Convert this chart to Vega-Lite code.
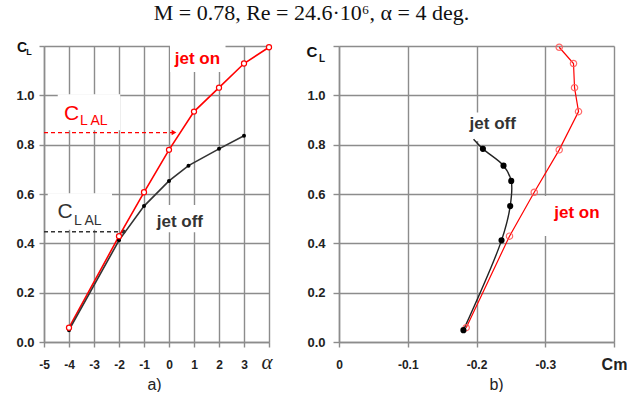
{
  "$schema": "https://vega.github.io/schema/vega-lite/v6.json",
  "autosize": {"type": "pad"},
  "padding": {"left": 15, "top": 2, "right": 0, "bottom": 0},
  "background": "white",
  "title": {"text": "M = 0.78, Re = 24.6·10⁶, α = 4 deg.", "font": "Liberation Serif", "fontSize": 22, "fontWeight": "normal", "color": "#111", "anchor": "middle", "baseline": "alphabetic", "offset": -2, "dx": -10},
  "config": {
    "view": {"stroke": null},
    "axis": {"grid": true, "gridColor": "#8c8c8c", "gridWidth": 1.4, "domainColor": "#8c8c8c", "domainWidth": 1.5, "tickColor": "#8c8c8c", "tickWidth": 1.4, "labelFont": "Liberation Sans", "labelFontWeight": "bold", "labelColor": "#222", "labelFlush": false, "labelOverlap": false, "labelBound": false}
  },
  "datasets": {
    "leftCurves": [
      {"alpha": -4, "CL": 0.058, "series": "jet on"},
      {"alpha": -2, "CL": 0.429, "series": "jet on"},
      {"alpha": -1, "CL": 0.607, "series": "jet on"},
      {"alpha": 0, "CL": 0.779, "series": "jet on"},
      {"alpha": 1, "CL": 0.934, "series": "jet on"},
      {"alpha": 2, "CL": 1.031, "series": "jet on"},
      {"alpha": 3, "CL": 1.129, "series": "jet on"},
      {"alpha": 4, "CL": 1.195, "series": "jet on"},
      {"alpha": -4, "CL": 0.048, "series": "jet off"},
      {"alpha": -2, "CL": 0.412, "series": "jet off"},
      {"alpha": -1, "CL": 0.551, "series": "jet off"},
      {"alpha": 0, "CL": 0.653, "series": "jet off"},
      {"alpha": 0.78, "CL": 0.715, "series": "jet off"},
      {"alpha": 2, "CL": 0.783, "series": "jet off"},
      {"alpha": 3, "CL": 0.836, "series": "jet off"}
    ],
    "rightCurves": [
      {"Cm": -0.185, "CL": 0.058, "series": "jet on", "marker": true},
      {"Cm": -0.248, "CL": 0.429, "series": "jet on", "marker": true},
      {"Cm": -0.284, "CL": 0.607, "series": "jet on", "marker": true},
      {"Cm": -0.3203, "CL": 0.779, "series": "jet on", "marker": true},
      {"Cm": -0.3484, "CL": 0.934, "series": "jet on", "marker": true},
      {"Cm": -0.3426, "CL": 1.031, "series": "jet on", "marker": true},
      {"Cm": -0.3411, "CL": 1.129, "series": "jet on", "marker": true},
      {"Cm": -0.3203, "CL": 1.195, "series": "jet on", "marker": true},
      {"Cm": -0.181, "CL": 0.048, "series": "jet off", "marker": true},
      {"Cm": -0.2364, "CL": 0.412, "series": "jet off", "marker": true},
      {"Cm": -0.249, "CL": 0.551, "series": "jet off", "marker": true},
      {"Cm": -0.2505, "CL": 0.653, "series": "jet off", "marker": true},
      {"Cm": -0.2393, "CL": 0.715, "series": "jet off", "marker": true},
      {"Cm": -0.2093, "CL": 0.783, "series": "jet off", "marker": true},
      {"Cm": -0.1957, "CL": 0.822, "series": "jet off", "marker": false}
    ],
    "leftBoxes": [
      {"a1": 0.04, "a2": 2.26, "c1": 1.095, "c2": 1.206},
      {"a1": -4.45, "a2": -1.95, "c1": 0.858, "c2": 1.004},
      {"a1": -4.85, "a2": -2.28, "c1": 0.455, "c2": 0.603},
      {"a1": -0.6, "a2": 1.6, "c1": 0.445, "c2": 0.555}
    ],
    "leftLeaders": [
      {"a1": -5, "a2": 0.2, "CL": 0.849, "series": "jet on"},
      {"a1": -5, "a2": -1.82, "CL": 0.447, "series": "jet off"}
    ],
    "leftLabels": [
      {"alpha": 1.136, "CL": 1.127, "label": "jet on", "series": "jet on"},
      {"alpha": 0.436, "CL": 0.465, "label": "jet off", "series": "jet off"}
    ],
    "leftBigC": [
      {"alpha": -4.2, "CL": 0.9, "label": "C", "series": "jet on"},
      {"alpha": -4.46, "CL": 0.501, "label": "C", "series": "jet off"}
    ],
    "leftSub": [
      {"alpha": -3.56, "CL": 0.88, "label": "L AL", "series": "jet on"},
      {"alpha": -3.8, "CL": 0.474, "label": "L AL", "series": "jet off"}
    ],
    "rightBoxes": [
      {"c1": -0.182, "c2": -0.268, "l1": 0.815, "l2": 0.93},
      {"c1": -0.298, "c2": -0.39, "l1": 0.43, "l2": 0.592}
    ],
    "rightLabels": [
      {"Cm": -0.2236, "CL": 0.862, "label": "jet off", "series": "jet off"},
      {"Cm": -0.346, "CL": 0.501, "label": "jet on", "series": "jet on"}
    ]
  },
  "hconcat": [
    {
      "width": 225,
      "height": 296,
      "layer": [
        {
          "data": {"name": "leftBoxes"},
          "mark": {"type": "rect", "fill": "white", "stroke": null},
          "encoding": {
            "x": {"field": "a1", "type": "quantitative", "scale": {"domain": [-5, 4], "nice": false, "zero": false},
              "axis": {"values": [-5, -4, -3, -2, -1, 0, 1, 2, 3, 4], "tickCount": 20, "labelOverlap": false, "labelFlush": false, "labelSeparation": 0, "tickSize": 5, "labelFontSize": 12,
                "labelBaseline": "middle", "labelPadding": 17,
                "labelExpr": "datum.value > 3.5 ? '' : (datum.value < 0 ? '-' + format(-datum.value, 'd') : format(datum.value, 'd'))",
                "title": "a)", "titleFont": "Liberation Sans", "titleFontSize": 16, "titleFontWeight": "normal", "titleColor": "#222", "titleBaseline": "alphabetic", "titleY": 47, "titleX": 110, "titleAlign": "center"}},
            "x2": {"field": "a2"},
            "y": {"field": "c1", "type": "quantitative", "scale": {"domain": [0, 1.2], "nice": false},
              "axis": {"values": [0, 0.2, 0.4, 0.6, 0.8, 1.0, 1.2], "tickCount": 20, "labelOverlap": false, "tickSize": 5, "labelPadding": 5, "labelFontSize": 13,
                "labelExpr": "datum.value > 1.1 ? '' : format(datum.value, '.1f')", "title": null}},
            "y2": {"field": "c2"}
          }
        },
        {
          "data": {"name": "leftLeaders"},
          "mark": {"type": "rule", "strokeDash": [4, 3], "strokeWidth": 1.3},
          "encoding": {
            "x": {"field": "a1", "type": "quantitative"},
            "x2": {"field": "a2"},
            "y": {"field": "CL", "type": "quantitative"},
            "color": {"field": "series", "type": "nominal", "scale": {"domain": ["jet on", "jet off"], "range": ["#ff0000", "#333333"]}, "legend": null}
          }
        },
        {
          "data": {"name": "leftLeaders"},
          "mark": {"type": "point", "filled": true, "opacity": 1},
          "encoding": {
            "x": {"field": "a2", "type": "quantitative"},
            "y": {"field": "CL", "type": "quantitative"},
            "shape": {"field": "series", "type": "nominal", "scale": {"domain": ["jet on", "jet off"], "range": ["triangle-right", "circle"]}, "legend": null},
            "size": {"field": "series", "type": "nominal", "scale": {"domain": ["jet on", "jet off"], "range": [30, 18]}, "legend": null},
            "color": {"field": "series", "type": "nominal", "scale": {"domain": ["jet on", "jet off"], "range": ["#ff0000", "#000000"]}, "legend": null}
          }
        },
        {
          "data": {"name": "leftCurves"},
          "mark": {"type": "line", "strokeWidth": 1.6},
          "encoding": {
            "x": {"field": "alpha", "type": "quantitative"},
            "y": {"field": "CL", "type": "quantitative"},
            "color": {"field": "series", "type": "nominal", "scale": {"domain": ["jet on", "jet off"], "range": ["#ff0000", "#111111"]}, "legend": null}
          }
        },
        {
          "data": {"name": "leftCurves"},
          "transform": [{"filter": "datum.series === 'jet off'"}],
          "mark": {"type": "point", "filled": true, "color": "#000000", "size": 16, "opacity": 1},
          "encoding": {
            "x": {"field": "alpha", "type": "quantitative"},
            "y": {"field": "CL", "type": "quantitative"}
          }
        },
        {
          "data": {"name": "leftCurves"},
          "transform": [{"filter": "datum.series === 'jet on'"}],
          "mark": {"type": "point", "fill": "white", "stroke": "#ff0000", "strokeWidth": 1.2, "size": 26, "opacity": 1, "fillOpacity": 1},
          "encoding": {
            "x": {"field": "alpha", "type": "quantitative"},
            "y": {"field": "CL", "type": "quantitative"}
          }
        },
        {
          "data": {"name": "leftLabels"},
          "mark": {"type": "text", "font": "Liberation Sans", "fontWeight": "bold", "fontSize": 17, "align": "center", "baseline": "alphabetic"},
          "encoding": {
            "x": {"field": "alpha", "type": "quantitative"},
            "y": {"field": "CL", "type": "quantitative"},
            "text": {"field": "label"},
            "color": {"field": "series", "type": "nominal", "scale": {"domain": ["jet on", "jet off"], "range": ["#ff0000", "#111111"]}, "legend": null}
          }
        },
        {
          "data": {"name": "leftBigC"},
          "mark": {"type": "text", "font": "Liberation Sans", "fontSize": 21, "align": "left", "baseline": "alphabetic"},
          "encoding": {
            "x": {"field": "alpha", "type": "quantitative"},
            "y": {"field": "CL", "type": "quantitative"},
            "text": {"field": "label"},
            "color": {"field": "series", "type": "nominal", "scale": {"domain": ["jet on", "jet off"], "range": ["#ff0000", "#111111"]}, "legend": null}
          }
        },
        {
          "data": {"name": "leftSub"},
          "mark": {"type": "text", "font": "Liberation Sans", "fontSize": 14, "align": "left", "baseline": "alphabetic"},
          "encoding": {
            "x": {"field": "alpha", "type": "quantitative"},
            "y": {"field": "CL", "type": "quantitative"},
            "text": {"field": "label"},
            "color": {"field": "series", "type": "nominal", "scale": {"domain": ["jet on", "jet off"], "range": ["#ff0000", "#111111"]}, "legend": null}
          }
        },
        {
          "data": {"values": [{}]},
          "mark": {"type": "text", "text": "α", "font": "Liberation Serif", "fontStyle": "italic", "fontSize": 21, "align": "center", "baseline": "middle", "dx": -2, "dy": 21, "color": "#222"},
          "encoding": {"x": {"datum": 4}, "y": {"datum": 0}}
        },
        {
          "data": {"values": [{}]},
          "mark": {"type": "text", "text": "C", "font": "Liberation Sans", "fontWeight": "bold", "fontSize": 14, "align": "center", "baseline": "alphabetic", "dx": -22, "dy": 6, "color": "#111"},
          "encoding": {"x": {"datum": -5}, "y": {"datum": 1.2}}
        },
        {
          "data": {"values": [{}]},
          "mark": {"type": "text", "text": "L", "font": "Liberation Sans", "fontWeight": "bold", "fontSize": 9, "align": "center", "baseline": "alphabetic", "dx": -15, "dy": 9, "color": "#111"},
          "encoding": {"x": {"datum": -5}, "y": {"datum": 1.2}}
        }
      ]
    },
    {
      "width": 275,
      "height": 296,
      "layer": [
        {
          "data": {"name": "rightBoxes"},
          "mark": {"type": "rect", "fill": "white", "stroke": null},
          "encoding": {
            "x": {"field": "c1", "type": "quantitative", "scale": {"domain": [-0.4, 0], "reverse": true, "nice": false, "zero": false},
              "axis": {"values": [0, -0.1, -0.2, -0.3, -0.4], "tickCount": 20, "labelOverlap": false, "labelFlush": false, "tickSize": 5,
                "labelFontSize": {"condition": {"test": "datum.value < -0.35", "value": 16}, "value": 12},
                "labelBaseline": "middle", "labelPadding": 17,
                "labelExpr": "datum.value < -0.35 ? 'Cm' : (datum.value === 0 ? '0' : '-' + format(-datum.value, '.1f'))",
                "title": "b)", "titleFont": "Liberation Sans", "titleFontSize": 16, "titleFontWeight": "normal", "titleColor": "#222", "titleBaseline": "alphabetic", "titleY": 47, "titleX": 157, "titleAlign": "center"}},
            "x2": {"field": "c2"},
            "y": {"field": "l1", "type": "quantitative", "scale": {"domain": [0, 1.2], "nice": false},
              "axis": {"values": [0, 0.2, 0.4, 0.6, 0.8, 1.0, 1.2], "tickCount": 20, "labelOverlap": false, "tickSize": 6, "labelPadding": 8, "labelFontSize": 13,
                "labelExpr": "datum.value > 1.1 ? '' : format(datum.value, '.1f')", "title": null}},
            "y2": {"field": "l2"}
          }
        },
        {
          "data": {"name": "rightCurves"},
          "transform": [{"filter": "datum.series === 'jet on'"}],
          "mark": {"type": "line", "strokeWidth": 1.2, "color": "#ff0000"},
          "encoding": {
            "x": {"field": "Cm", "type": "quantitative"},
            "y": {"field": "CL", "type": "quantitative"},
            "order": {"field": "CL", "type": "quantitative"}
          }
        },
        {
          "data": {"name": "rightCurves"},
          "transform": [{"filter": "datum.series === 'jet off'"}],
          "mark": {"type": "line", "strokeWidth": 1.4, "color": "#222222", "interpolate": "catmull-rom"},
          "encoding": {
            "x": {"field": "Cm", "type": "quantitative"},
            "y": {"field": "CL", "type": "quantitative"},
            "order": {"field": "CL", "type": "quantitative"}
          }
        },
        {
          "data": {"name": "rightCurves"},
          "transform": [{"filter": "datum.series === 'jet on'"}],
          "mark": {"type": "point", "filled": false, "stroke": "#ff5a5a", "strokeWidth": 1.2, "size": 40, "opacity": 0.9},
          "encoding": {
            "x": {"field": "Cm", "type": "quantitative"},
            "y": {"field": "CL", "type": "quantitative"}
          }
        },
        {
          "data": {"name": "rightCurves"},
          "transform": [{"filter": "datum.series === 'jet off' && datum.marker"}],
          "mark": {"type": "point", "filled": true, "color": "#000000", "size": 38, "opacity": 1},
          "encoding": {
            "x": {"field": "Cm", "type": "quantitative"},
            "y": {"field": "CL", "type": "quantitative"}
          }
        },
        {
          "data": {"name": "rightLabels"},
          "mark": {"type": "text", "font": "Liberation Sans", "fontWeight": "bold", "fontSize": 17, "align": "center", "baseline": "alphabetic"},
          "encoding": {
            "x": {"field": "Cm", "type": "quantitative"},
            "y": {"field": "CL", "type": "quantitative"},
            "text": {"field": "label"},
            "color": {"field": "series", "type": "nominal", "scale": {"domain": ["jet on", "jet off"], "range": ["#ff0000", "#111111"]}, "legend": null}
          }
        },
        {
          "data": {"values": [{}]},
          "mark": {"type": "text", "text": "C", "font": "Liberation Sans", "fontWeight": "bold", "fontSize": 15, "align": "center", "baseline": "alphabetic", "dx": -27, "dy": 11, "color": "#111"},
          "encoding": {"x": {"datum": 0}, "y": {"datum": 1.2}}
        },
        {
          "data": {"values": [{}]},
          "mark": {"type": "text", "text": "L", "font": "Liberation Sans", "fontWeight": "bold", "fontSize": 10, "align": "center", "baseline": "alphabetic", "dx": -17, "dy": 16, "color": "#111"},
          "encoding": {"x": {"datum": 0}, "y": {"datum": 1.2}}
        }
      ]
    }
  ],
  "spacing": 70,
  "bounds": "flush"
}
